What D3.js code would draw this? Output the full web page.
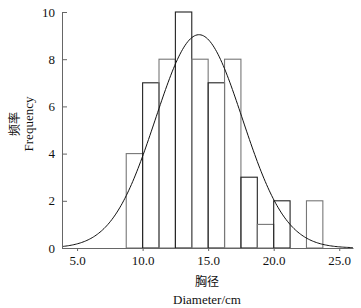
<!DOCTYPE html>
<html>
<head>
<meta charset="utf-8">
<script src="https://cdn.jsdelivr.net/npm/d3@7"></script>
<style>
  body { margin: 0; background: #fff; }
  svg text { font-family: "Liberation Serif", "DejaVu Serif", serif; fill: #111; }
  .cjk { font-family: "Noto Sans CJK SC", sans-serif; }
</style>
</head>
<body>
<svg class="hist" width="361" height="308"></svg>
<script>
// bin start values (width 1.25 cm) and counts
const binStarts = [8.75, 10, 11.25, 12.5, 13.75, 15, 16.25, 17.5, 18.75, 20, 21.25, 22.5];
const counts = [4, 7, 8, 10, 8, 7, 8, 3, 1, 2, 0, 2];
const binWidth = 1.25;
const xTicks = [5, 10, 15, 20, 25];
const yTicks = [0, 2, 4, 6, 8, 10];
// fitted normal curve parameters
const fitMean = 14.3;
const fitSd = 3.31;

const svg = d3.select('.hist');

const x = d3.scaleLinear().domain([3.85, 26.05]).range([62, 353]);
const y = d3.scaleLinear().domain([0, 10]).range([248, 12]);

const bins = binStarts.map((s, i) => ({ x0: s, x1: s + binWidth, n: counts[i] }));

svg.append('g')
  .selectAll('rect')
  .data(bins.filter(d => d.n > 0))
  .enter()
  .append('rect')
  .attr('x', d => x(d.x0))
  .attr('y', d => y(d.n))
  .attr('width', d => x(d.x1) - x(d.x0))
  .attr('height', d => y(0) - y(d.n))
  .attr('fill', 'none')
  .attr('stroke', (d, i) => i % 2 ? '#222' : '#777')
  .attr('stroke-width', 1.1);

// normal curve
const total = d3.sum(counts) * binWidth;
const curveX = d3.range(x.domain()[0], x.domain()[1] + 0.001, 0.1);
const line = d3.line()
  .x(v => x(v))
  .y(v => y(total * Math.exp(-0.5 * ((v - fitMean) / fitSd) ** 2) / (fitSd * Math.sqrt(2 * Math.PI))))
  .curve(d3.curveBasis);

svg.append('path')
  .datum(curveX)
  .attr('d', line)
  .attr('fill', 'none')
  .attr('stroke', '#111')
  .attr('stroke-width', 1);

// axes
const yAxisG = svg.append('g')
  .attr('transform', `translate(${x.range()[0]},0)`)
  .call(d3.axisLeft(y).tickValues(yTicks).tickSizeInner(-5).tickSizeOuter(0).tickPadding(7).tickFormat(d3.format('d')));

const xAxisG = svg.append('g')
  .attr('transform', `translate(0,${y(0)})`)
  .call(d3.axisBottom(x).tickValues(xTicks).tickSizeInner(3).tickSizeOuter(0).tickPadding(5).tickFormat(d3.format('.1f')));

[yAxisG, xAxisG].forEach(g => {
  g.selectAll('.domain').attr('stroke', '#666');
  g.selectAll('.tick line').attr('stroke', '#666');
  g.selectAll('text').attr('font-size', 13).attr('font-family', '"Liberation Serif", serif');
});

// labels
svg.append('text')
  .attr('class', 'cjk')
  .attr('transform', 'translate(19,124) rotate(-90)')
  .attr('text-anchor', 'middle')
  .attr('font-size', 12)
  .text('频率');

svg.append('text')
  .attr('transform', 'translate(33,124) rotate(-90)')
  .attr('text-anchor', 'middle')
  .attr('font-size', 13)
  .text('Frequency');

svg.append('text')
  .attr('class', 'cjk')
  .attr('x', 207)
  .attr('y', 286)
  .attr('text-anchor', 'middle')
  .attr('font-size', 12)
  .text('胸径');

svg.append('text')
  .attr('x', 207)
  .attr('y', 304)
  .attr('text-anchor', 'middle')
  .attr('font-size', 13)
  .text('Diameter/cm');
</script>
</body>
</html>
